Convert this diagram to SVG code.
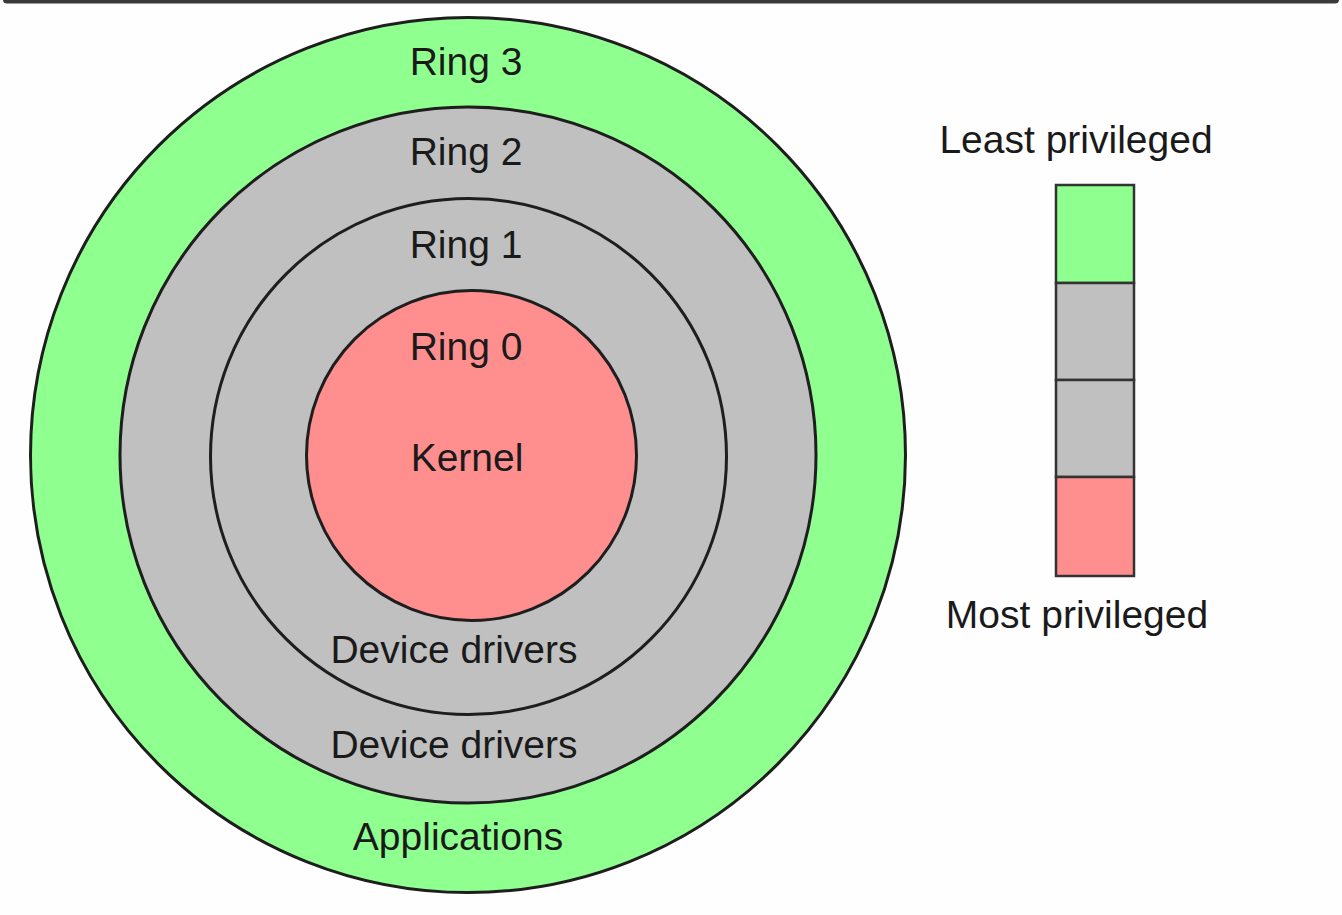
<svg xmlns="http://www.w3.org/2000/svg" width="1342" height="915" viewBox="0 0 1342 915">
<style>
.ring{stroke:#1e1e1e;stroke-width:3}
.g{fill:#8fff8f}.s{fill:#c0c0c0}.r{fill:#ff8f8f}
.seg{stroke:#333;stroke-width:2.5}
text{font-family:"Liberation Sans",Arial,sans-serif;font-size:39px;fill:#1a1a1a;text-anchor:middle}
</style>
<rect x="0" y="0" width="1342" height="915" fill="#fefefe"/>
<rect x="3" y="-4" width="1336" height="7.5" rx="4" fill="#3a3a3a"/>
<g id="ring3"><circle class="ring g" cx="468" cy="455" r="437.5"/><text x="466" y="75">Ring 3</text><text x="458" y="850">Applications</text></g>
<g id="ring2"><circle class="ring s" cx="468" cy="455" r="348"/><text x="466" y="165">Ring 2</text><text x="454" y="758">Device drivers</text></g>
<g id="ring1"><circle class="ring s" cx="468.5" cy="456.5" r="258"/><text x="466" y="258">Ring 1</text><text x="454" y="663">Device drivers</text></g>
<g id="ring0"><circle class="ring r" cx="471.5" cy="455.5" r="165"/><text x="466" y="360">Ring 0</text><text x="467" y="471">Kernel</text></g>
<g id="legend">
<text x="1076" y="153">Least privileged</text>
<rect class="seg g" x="1056" y="185" width="78" height="98"/>
<rect class="seg s" x="1056" y="283" width="78" height="97"/>
<rect class="seg s" x="1056" y="380" width="78" height="97"/>
<rect class="seg r" x="1056" y="477" width="78" height="99"/>
<text x="1077" y="628">Most privileged</text>
</g>
</svg>
